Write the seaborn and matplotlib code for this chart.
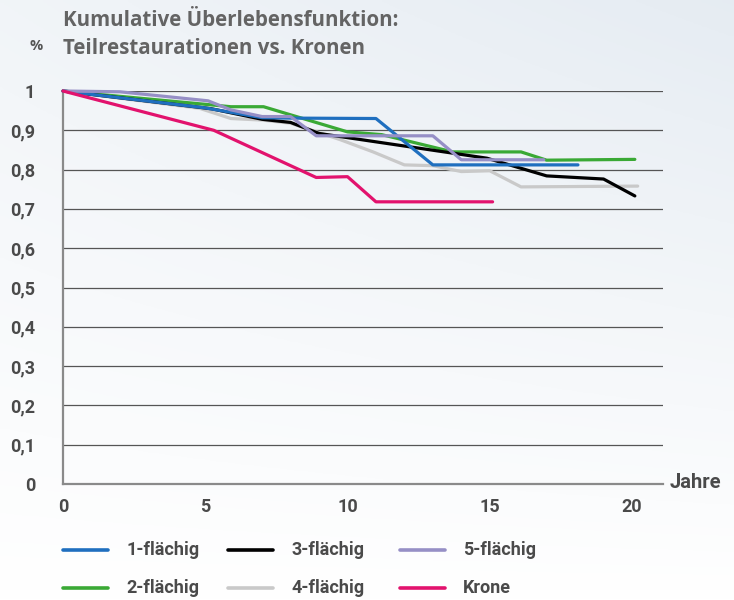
import numpy as np
import pandas as pd
import matplotlib
matplotlib.use("Agg")
import matplotlib.pyplot as plt
import seaborn as sns

# ---- data ----
series_names = ["1-flächig", "2-flächig", "3-flächig", "4-flächig", "5-flächig", "Krone"]

years_1 = [0, 5, 7, 8, 11, 13, 18.1]
surv_1 = [1.0, 0.957, 0.932, 0.931, 0.93, 0.812, 0.812]

years_2 = [0, 5.9, 7.05, 10, 11.2, 13.7, 16.1, 17, 20.1]
surv_2 = [1.0, 0.96, 0.96, 0.896, 0.889, 0.845, 0.845, 0.824, 0.826]

years_3 = [0, 5.2, 7, 8, 9, 9.75, 14.9, 17, 19, 20.1]
surv_3 = [1.0, 0.955, 0.928, 0.92, 0.892, 0.884, 0.829, 0.784, 0.776, 0.733]

years_4 = [0, 4.8, 5.9, 7, 8, 9.75, 10.9, 12, 13, 14, 15, 16.1, 20.2]
surv_4 = [1.0, 0.956, 0.93, 0.926, 0.918, 0.876, 0.845, 0.812, 0.81, 0.795, 0.797, 0.756, 0.758]

years_5 = [0, 2, 5.1, 5.9, 7, 8, 8.9, 13, 14, 16.9]
surv_5 = [1.0, 0.998, 0.975, 0.952, 0.935, 0.935, 0.886, 0.886, 0.825, 0.825]

years_k = [0, 5.3, 8.9, 10, 11, 15.1]
surv_k = [1.0, 0.9, 0.78, 0.782, 0.718, 0.718]

x_ticks = [0, 5, 10, 15, 20]
y_ticks = [0, 0.1, 0.2, 0.3, 0.4, 0.5, 0.6, 0.7, 0.8, 0.9, 1.0]
y_labels = ["0", "0,1", "0,2", "0,3", "0,4", "0,5", "0,6", "0,7", "0,8", "0,9", "1"]

colors = {
    "1-flächig": "#1f6fbf",
    "2-flächig": "#3aa935",
    "3-flächig": "#000000",
    "4-flächig": "#c9c9c9",
    "5-flächig": "#968fc6",
    "Krone": "#e2126d",
}

all_years = [years_1, years_2, years_3, years_4, years_5, years_k]
all_surv = [surv_1, surv_2, surv_3, surv_4, surv_5, surv_k]
frames = []
for name, ys, vs in zip(series_names, all_years, all_surv):
    frames.append(pd.DataFrame({"Jahr": ys, "Wert": vs, "Gruppe": name}))
df = pd.concat(frames, ignore_index=True)

# ---- figure ----
sns.set_theme(style="white")
plt.rcParams["font.family"] = ["Roboto", "DejaVu Sans"]

W, H = 734, 600
fig = plt.figure(figsize=(W / 100, H / 100), dpi=100)

# background gradient
bg = fig.add_axes([0, 0, 1, 1], zorder=-10)
gx = np.linspace(0, 1, 200)
gy = np.linspace(0, 1, 200)
GX, GY = np.meshgrid(gx, gy)
grad = np.clip(0.55 * GY + 0.45 * GX * GY, 0, 1)
c0 = np.array([1.0, 1.0, 1.0])
c1 = np.array([0.90, 0.925, 0.95])
img = c0[None, None, :] * (1 - grad[..., None]) + c1[None, None, :] * grad[..., None]
bg.imshow(img, origin="lower", aspect="auto", extent=[0, 1, 0, 1])
bg.set_axis_off()

x0, x1 = 63, 663
y0, y1 = 484, 91
xmax = (x1 - x0) / ((632 - 63) / 20)
ax = fig.add_axes([x0 / W, 1 - y0 / H, (x1 - x0) / W, (y0 - y1) / H])
ax.patch.set_alpha(0)

order = ["4-flächig", "2-flächig", "3-flächig", "1-flächig", "5-flächig", "Krone"]
for i, name in enumerate(order):
    sub = df[df["Gruppe"] == name]
    sns.lineplot(data=sub, x="Jahr", y="Wert", ax=ax, color=colors[name],
                 linewidth=2.3, sort=False, estimator=None, legend=False,
                 zorder=3 + i, clip_on=False)

ax.set_xlim(0, xmax)
ax.set_ylim(0, 1.0)
ax.set_xlabel("")
ax.set_ylabel("")
for yv in y_ticks[1:]:
    ax.axhline(yv, color="#555555", linewidth=0.9, zorder=1)

for s in ["top", "right"]:
    ax.spines[s].set_visible(False)
ax.spines["left"].set_color("#8a8a8a")
ax.spines["left"].set_linewidth(1.6)
ax.spines["bottom"].set_color("#8a8a8a")
ax.spines["bottom"].set_linewidth(1.6)

ax.set_xticks(x_ticks)
ax.set_xticklabels([str(t) for t in x_ticks])
ax.set_yticks(y_ticks)
ax.set_yticklabels(y_labels)
ax.tick_params(axis="x", direction="in", length=9, width=1, color="#555555",
               pad=10, labelsize=13, labelcolor="#4a4a4a")
ax.tick_params(axis="y", length=0, pad=20, labelsize=13, labelcolor="#4a4a4a")
for lab in ax.get_xticklabels() + ax.get_yticklabels():
    lab.set_fontweight("bold")

# titles
tfont = ["Open Sans", "DejaVu Sans"]
fig.text(63 / W, 1 - 20 / H, "Kumulative Überlebensfunktion:", family=tfont,
         fontweight="bold", fontsize=14.8, color="#646464", va="center", ha="left")
fig.text(63 / W, 1 - 49 / H, "Teilrestaurationen vs. Kronen", family=tfont,
         fontweight="bold", fontsize=14.8, color="#646464", va="center", ha="left")
fig.text(29 / W, 1 - 46 / H, "%", family=tfont, fontweight="bold", fontsize=10.5,
         color="#555555", va="center", ha="left")
fig.text(670 / W, 1 - 483 / H, "Jahre", fontweight="bold", fontsize=14.5,
         color="#4a4a4a", va="center", ha="left")

# legend
leg_pos = {
    "1-flächig": (63, 550), "3-flächig": (228, 550), "5-flächig": (400, 550),
    "2-flächig": (63, 588), "4-flächig": (228, 588), "Krone": (400, 588),
}
for name, (lx, ly) in leg_pos.items():
    fig.add_artist(plt.Line2D([lx / W, (lx + 45) / W], [1 - ly / H, 1 - ly / H],
                              color=colors[name], linewidth=2.6))
    fig.text((lx + 63) / W, 1 - ly / H, name, fontweight="bold", fontsize=13,
             color="#4a4a4a", va="center", ha="left")

fig.savefig("out.png", dpi=100)
